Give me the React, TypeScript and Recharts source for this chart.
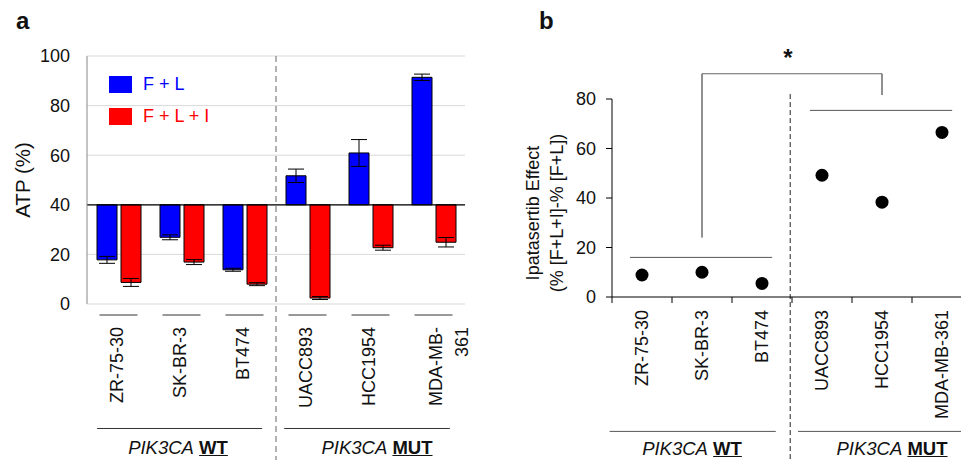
import React from 'react';
import {
  BarChart,
  Bar,
  XAxis,
  YAxis,
  CartesianGrid,
  ErrorBar,
  ReferenceLine,
  Legend,
  ScatterChart,
  Scatter,
  Label,
} from 'recharts';

const FONT = '"Liberation Sans", Arial, Helvetica, sans-serif';

// cell lines, first three PIK3CA WT, last three PIK3CA MUT
const cellLines = ['ZR-75-30', 'SK-BR-3', 'BT474', 'UACC893', 'HCC1954', 'MDA-MB-361'];

// panel a: ATP (%) per treatment, bars drawn from the 40% baseline
const flValues = [17.8, 26.9, 13.8, 51.7, 60.9, 91.4];
const flErrors = [1.4, 1.0, 0.6, 2.7, 5.4, 1.3];
const fliValues = [8.7, 16.9, 8.0, 2.4, 22.7, 24.9];
const fliErrors = [1.6, 1.0, 0.6, 0.6, 1.0, 1.9];
const atpTicks = [0, 20, 40, 60, 80, 100];
const BASELINE = 40;

// panel b: ipatasertib effect
const effectValues = [8.9, 10.0, 5.5, 49.2, 38.3, 66.5];
const effectTicks = [0, 20, 40, 60, 80];

const BLUE = '#0000ff';
const RED = '#ff0000';

const rowsA = cellLines.map((name, i) => ({
  name,
  idx: i + 0.5,
  fl: [BASELINE, flValues[i]],
  fli: [BASELINE, fliValues[i]],
  flErr: flErrors[i],
  fliErr: fliErrors[i],
}));

const rowsB = cellLines.map((name, i) => ({ name, x: i, y: effectValues[i] }));
const ticksB = cellLines.flatMap((_, i) => [i - 0.5, i]).concat(cellLines.length - 0.5);

const TickA = (props: any) => {
  const { x, y, payload } = props;
  const name: string = payload.value;
  const lines = name === 'MDA-MB-361' ? ['MDA-MB-', '361'] : [name];
  const offs = lines.length > 1 ? [2, 28] : [-2];
  return (
    <g>
      <line x1={x - 19} x2={x + 19} y1={y + 11} y2={y + 11} stroke="#333" />
      {lines.map((l, i) => {
        const tx = x + offs[i];
        const ty = y + 23;
        return (
          <text
            key={l}
            x={tx}
            y={ty}
            transform={`rotate(-90 ${tx} ${ty})`}
            textAnchor="end"
            dominantBaseline="central"
            fontSize={18}
            fontFamily={FONT}
            fill="#111"
          >
            {l}
          </text>
        );
      })}
    </g>
  );
};

const TickB = (props: any) => {
  const { x, y, payload } = props;
  const v: number = payload.value;
  if (!Number.isInteger(v)) {
    return <line x1={x} x2={x} y1={y} y2={y + 6} stroke="#000" />;
  }
  const ty = y + 13;
  return (
    <text
      x={x}
      y={ty}
      transform={`rotate(-90 ${x} ${ty})`}
      textAnchor="end"
      dominantBaseline="central"
      fontSize={18}
      fontFamily={FONT}
      fill="#111"
    >
      {cellLines[v]}
    </text>
  );
};

const legendColors: Record<string, string> = { 'F + L': BLUE, 'F + L + I': RED };

const LegendA = (props: any) => (
  <div>
    {(props.payload || []).map((e: any) => (
      <div key={e.value} style={{ display: 'flex', alignItems: 'center', height: 32 }}>
        <span
          style={{
            display: 'inline-block',
            width: 23,
            height: 17,
            background: legendColors[e.value],
            marginRight: 11,
          }}
        />
        <span style={{ color: legendColors[e.value], fontSize: 18, fontFamily: FONT }}>{e.value}</span>
      </div>
    ))}
  </div>
);

const EffectLabel = (props: any) => {
  const vb = props.viewBox || { x: 10, y: 99, width: 122, height: 198 };
  const cy = vb.y + vb.height / 2 + 15;
  const x1 = vb.x + 43;
  const x2 = vb.x + 67;
  return (
    <g fontSize={18} fontFamily={FONT} fill="#111">
      <text x={x1} y={cy} transform={`rotate(-90 ${x1} ${cy})`} textAnchor="middle" dominantBaseline="central">
        Ipatasertib Effect
      </text>
      <text x={x2} y={cy} transform={`rotate(-90 ${x2} ${cy})`} textAnchor="middle" dominantBaseline="central">
        (% [F+L+I]-% [F+L])
      </text>
    </g>
  );
};

const GroupText = ({ cx, top, tag }: { cx: number; top: number; tag: string }) => (
  <div
    style={{
      position: 'absolute',
      left: cx - 100,
      top,
      width: 200,
      textAlign: 'center',
      fontSize: 18.5,
      lineHeight: '20px',
      fontFamily: FONT,
      color: '#111',
      whiteSpace: 'nowrap',
    }}
  >
    <i>PIK3CA</i> <b style={{ textDecoration: 'underline' }}>{tag}</b>
  </div>
);

export default function App() {
  return (
    <div
      style={{
        position: 'fixed',
        left: 0,
        top: 0,
        width: 961,
        height: 460,
        overflow: 'hidden',
        background: '#fff',
      }}
    >
      <style>{'html,body{margin:0;padding:0;overflow:hidden;}'}</style>
      <div style={{ position: 'absolute', left: 0, top: 0 }}>
        <BarChart
          width={480}
          height={460}
          data={rowsA}
          margin={{ top: 56, right: 15, bottom: 0, left: 10 }}
          barGap={4}
        >
          <CartesianGrid horizontal vertical={false} stroke="#d9d9d9" />
          <XAxis
            dataKey="name"
            height={156}
            axisLine={false}
            tickLine={false}
            tickSize={0}
            tickMargin={0}
            interval={0}
            tick={<TickA />}
          />
          <XAxis xAxisId="num" type="number" dataKey="idx" domain={[0, 6]} allowDataOverflow hide />
          <YAxis
            type="number"
            domain={[0, 100]}
            ticks={atpTicks}
            width={77}
            axisLine={{ stroke: '#888' }}
            tickLine={false}
            tickSize={6}
            tickMargin={11}
            tick={{ fontSize: 18, fill: '#111', fontFamily: FONT }}
          >
            <Label
              value="ATP (%)"
              angle={-90}
              position="insideLeft"
              offset={13}
              style={{ textAnchor: 'middle', fontSize: 20.5, fill: '#111', fontFamily: FONT }}
            />
          </YAxis>
          <Legend
            layout="vertical"
            align="center"
            verticalAlign="middle"
            content={<LegendA />}
            wrapperStyle={{ left: 109, top: 68, width: 'auto', height: 'auto' }}
          />
          <Bar dataKey="fl" name="F + L" fill={BLUE} stroke="#000" strokeWidth={1} barSize={20} isAnimationActive={false}>
            <ErrorBar dataKey="flErr" width={8} stroke="#000" strokeWidth={1} direction="y" />
          </Bar>
          <Bar dataKey="fli" name="F + L + I" fill={RED} stroke="#000" strokeWidth={1} barSize={20} isAnimationActive={false}>
            <ErrorBar dataKey="fliErr" width={8} stroke="#000" strokeWidth={1} direction="y" />
          </Bar>
          <ReferenceLine y={BASELINE} stroke="#000" strokeWidth={1.2} />
          <ReferenceLine
            xAxisId="num"
            segment={[{ x: 3, y: 100 }, { x: 3, y: -70 }]}
            stroke="#666"
            strokeDasharray="6 4"
            ifOverflow="visible"
          />
          <ReferenceLine
            xAxisId="num"
            segment={[{ x: 0.16, y: -50.2 }, { x: 2.78, y: -50.2 }]}
            stroke="#333"
            ifOverflow="visible"
          />
          <ReferenceLine
            xAxisId="num"
            segment={[{ x: 3.13, y: -50.2 }, { x: 5.76, y: -50.2 }]}
            stroke="#333"
            ifOverflow="visible"
          />
        </BarChart>
      </div>

      <div style={{ position: 'absolute', left: 480, top: 0 }}>
        <ScatterChart width={500} height={460} margin={{ top: 99, right: 8, bottom: 0, left: 10 }}>
          <XAxis
            type="number"
            dataKey="x"
            domain={[-0.5, 5.5]}
            allowDataOverflow
            ticks={ticksB}
            interval={0}
            height={163}
            axisLine={{ stroke: '#000' }}
            tickLine={false}
            tickSize={0}
            tickMargin={0}
            tick={<TickB />}
          />
          <YAxis
            type="number"
            dataKey="y"
            domain={[0, 80]}
            ticks={effectTicks}
            width={122}
            axisLine={{ stroke: '#000' }}
            tickLine={{ stroke: '#000' }}
            tickSize={6}
            tickMargin={10}
            tick={{ fontSize: 18, fill: '#111', fontFamily: FONT }}
          >
            <Label content={<EffectLabel />} />
          </YAxis>
          <Scatter
            data={rowsB}
            isAnimationActive={false}
            shape={(p: any) => <circle cx={p.cx} cy={p.cy} r={6.5} fill="#000" />}
          />
          <ReferenceLine segment={[{ x: -0.2, y: 16 }, { x: 2.17, y: 16 }]} stroke="#555" ifOverflow="visible" />
          <ReferenceLine segment={[{ x: 2.8, y: 75.4 }, { x: 5.17, y: 75.4 }]} stroke="#555" ifOverflow="visible" />
          <ReferenceLine segment={[{ x: 1, y: 24 }, { x: 1, y: 90.2 }]} stroke="#222" ifOverflow="visible" />
          <ReferenceLine segment={[{ x: 1, y: 90.2 }, { x: 4, y: 90.2 }]} stroke="#666" ifOverflow="visible" />
          <ReferenceLine segment={[{ x: 4, y: 90.2 }, { x: 4, y: 81.6 }]} stroke="#222" ifOverflow="visible" />
          <ReferenceLine
            segment={[{ x: 2.47, y: 82 }, { x: 2.47, y: -80 }]}
            stroke="#222"
            strokeDasharray="5 3"
            ifOverflow="visible"
          />
          <ReferenceLine segment={[{ x: -0.54, y: -54.3 }, { x: 2.23, y: -54.3 }]} stroke="#555" ifOverflow="visible" />
          <ReferenceLine segment={[{ x: 2.6, y: -54.3 }, { x: 6, y: -54.3 }]} stroke="#555" ifOverflow="visible" />
        </ScatterChart>
      </div>

      <svg
        width={961}
        height={460}
        style={{ position: 'absolute', left: 0, top: 0, pointerEvents: 'none' }}
      >
        <text x={16} y={29} fontSize={24} fontWeight="bold" fontFamily={FONT} fill="#111">
          a
        </text>
        <text x={539} y={29} fontSize={24} fontWeight="bold" fontFamily={FONT} fill="#111">
          b
        </text>
        <text x={788} y={66} textAnchor="middle" fontSize={24} fontWeight="bold" fontFamily={FONT} fill="#111">
          *
        </text>
      </svg>
      <GroupText cx={178} top={438} tag="WT" />
      <GroupText cx={377} top={438} tag="MUT" />
      <GroupText cx={692} top={439} tag="WT" />
      <GroupText cx={892} top={439} tag="MUT" />
    </div>
  );
}
